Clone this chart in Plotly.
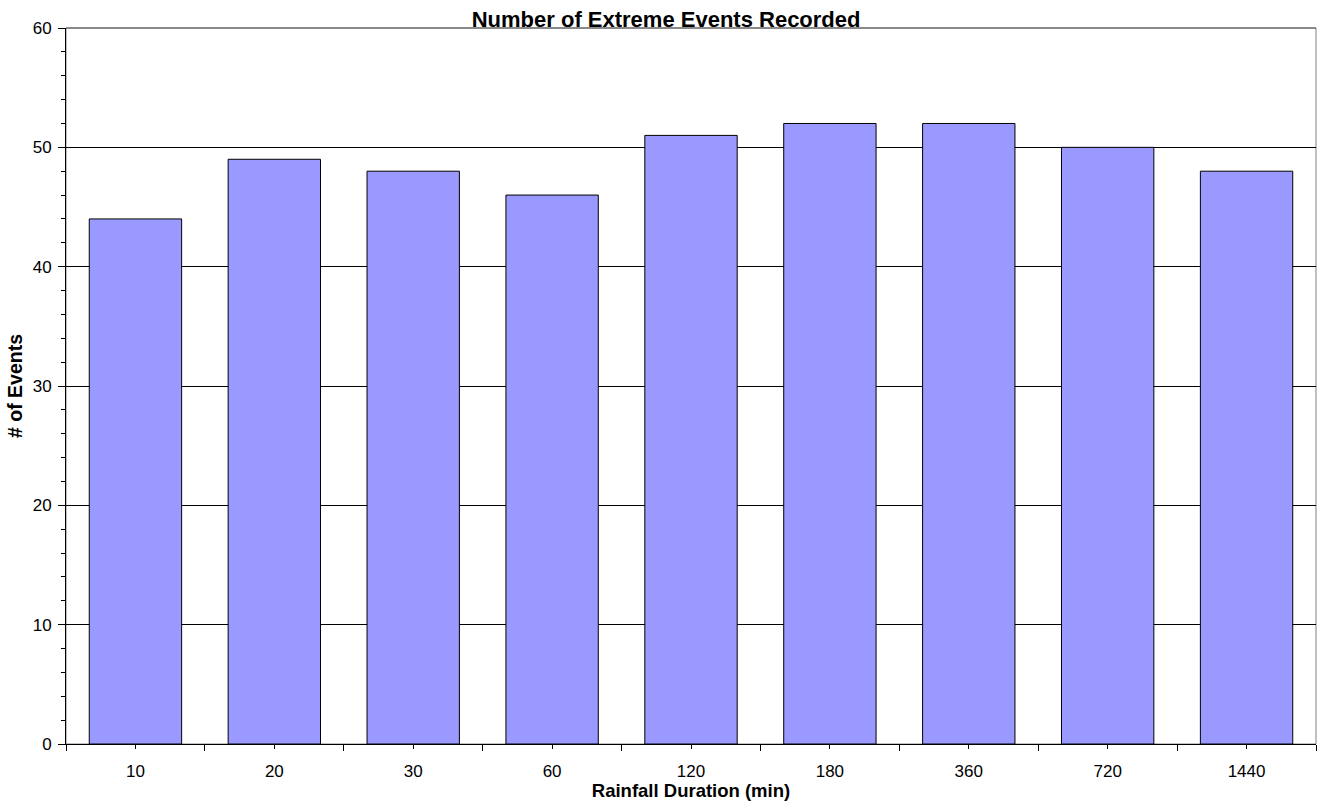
import plotly.graph_objects as go

categories = ["10", "20", "30", "60", "120", "180", "360", "720", "1440"]
events = [44, 49, 48, 46, 51, 52, 52, 50, 48]
y_ticks = [0, 10, 20, 30, 40, 50, 60]

positions = list(range(len(categories)))
boundaries = [i - 0.5 for i in range(len(categories) + 1)]

FONT = "Liberation Sans, Arial, sans-serif"

fig = go.Figure(
    go.Bar(
        x=positions,
        y=events,
        width=0.665,
        marker=dict(color="#9999FF", line=dict(color="black", width=1)),
        hoverinfo="x+y",
    )
)

fig.update_layout(
    width=1319,
    height=801,
    margin=dict(l=66, r=3, t=28, b=57, autoexpand=False),
    paper_bgcolor="white",
    plot_bgcolor="white",
    showlegend=False,
    font=dict(family=FONT, size=17, color="black"),
    title=dict(
        text="<b>Number of Extreme Events Recorded</b>",
        font=dict(family=FONT, size=22, color="black"),
        x=0.505,
        xref="container",
        xanchor="center",
        y=1 - 19.5 / 801,
        yref="container",
        yanchor="middle",
        automargin=False,
    ),
    xaxis=dict(
        range=[-0.5, len(categories) - 0.5],
        tickmode="array",
        tickvals=positions,
        ticktext=categories,
        ticks="outside",
        ticklen=4,
        tickcolor="black",
        showline=True,
        linecolor="black",
        linewidth=1,
        showgrid=False,
        zeroline=False,
        automargin=False,
        ticklabelstandoff=8,
        tickfont=dict(size=17),
        minor=dict(
            tickmode="array",
            tickvals=boundaries,
            ticks="outside",
            ticklen=6,
            tickcolor="black",
            showgrid=False,
        ),
        title=dict(text="<b>Rainfall Duration (min)</b>", font=dict(size=18.5), standoff=0),
    ),
    yaxis=dict(
        range=[0, 60],
        tickmode="array",
        tickvals=y_ticks,
        ticks="outside",
        ticklen=7,
        tickcolor="black",
        showline=True,
        linecolor="black",
        linewidth=1,
        showgrid=True,
        gridcolor="black",
        gridwidth=1,
        zeroline=False,
        automargin=False,
        ticklabelstandoff=3,
        tickfont=dict(size=17),
        minor=dict(dtick=2, tick0=0, ticks="outside", ticklen=4, tickcolor="black", showgrid=False),
        title=dict(text="<b># of Events</b>", font=dict(size=19.5), standoff=4),
    ),
    shapes=[
        dict(
            type="rect", xref="paper", yref="paper", x0=0, x1=1, y0=0, y1=1,
            line=dict(color="#808080", width=1), layer="below",
        ),
        dict(
            type="line", xref="paper", yref="paper", x0=0, x1=1, y0=1, y1=1,
            line=dict(color="#555555", width=1), layer="below",
        ),
    ],
)

fig.write_html(
    "out.html",
    config={"displayModeBar": False},
    post_script="document.body.style.margin='0px';document.body.style.overflow='hidden';",
)
